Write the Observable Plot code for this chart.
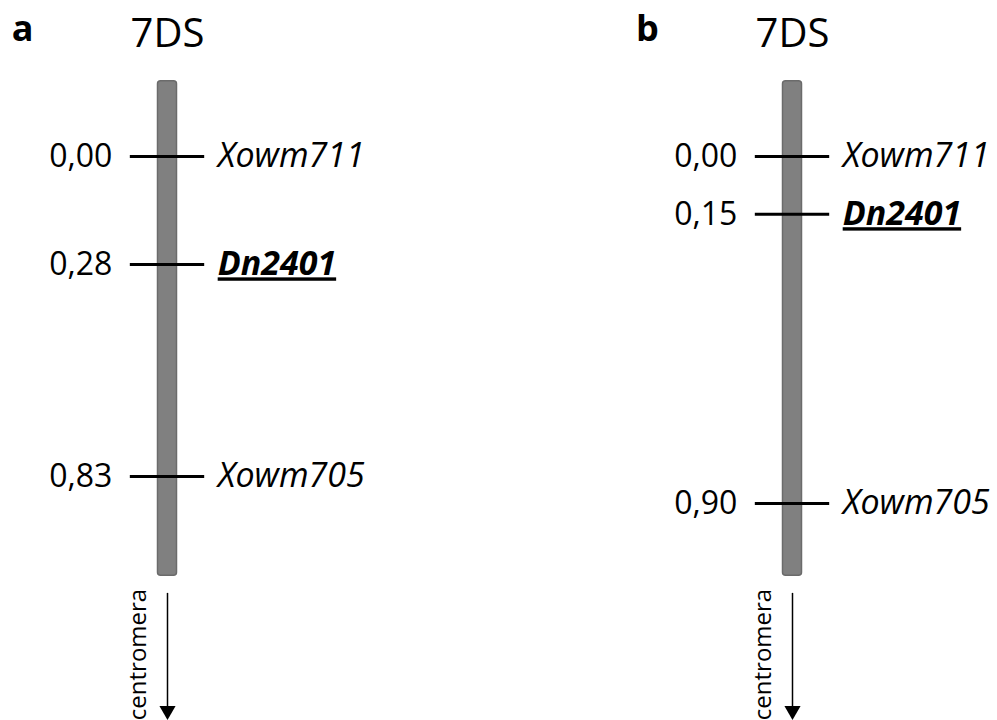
<!DOCTYPE html>
<html>
<head>
<meta charset="utf-8">
<script src="https://cdn.jsdelivr.net/npm/d3@7"></script>
<script src="https://cdn.jsdelivr.net/npm/@observablehq/plot@0.6"></script>
<style>
  html, body { margin: 0; padding: 0; background: #fff; }
  svg { display: block; }
</style>
</head>
<body>
<div id="chart"></div>
<script>
// ---- data ----
const panels = ["a", "b"];
const panelIndex = [0, 1];
const chromosomes = ["7DS", "7DS"];
const chromTop = [-0.195, -0.195];      // top of drawn chromosome bar (map units)
const chromBottom = [1.087, 1.087];     // bottom of drawn chromosome bar

const markerPanel = [0, 0, 0, 1, 1, 1];
const markerNames = ["Xowm711", "Dn2401", "Xowm705", "Xowm711", "Dn2401", "Xowm705"];
const markerPos = [0.00, 0.28, 0.83, 0.00, 0.15, 0.90];
const highlighted = ["Dn2401"];

const arrowLabel = "centromera";
const arrowStart = 1.133;
const arrowEnd = 1.437;
const arrowLabelMid = 1.2915;

// ---- tables built from arrays ----
const chromData = panels.map((p, i) => ({
  panel: p, px: panelIndex[i], name: chromosomes[i], top: chromTop[i], bottom: chromBottom[i]
}));
const markers = markerNames.map((n, i) => ({
  name: n, px: markerPanel[i], pos: markerPos[i],
  label: markerPos[i].toFixed(2).replace(".", ","),
  hi: highlighted.includes(n)
}));

const halfBar = 0.0152;
const halfTick = 0.0595;
const font = "'Open Sans', sans-serif";

const plot = Plot.plot({
  width: 997,
  height: 720,
  margin: 0,
  style: { fontFamily: font, background: "#fff" },
  x: { domain: [-0.2672, 1.328], axis: null },
  y: { domain: [0, 1], range: [156, 541.6], axis: null },
  marks: [
    // chromosome bars
    Plot.rect(chromData, {
      x1: d => d.px - halfBar, x2: d => d.px + halfBar,
      y1: "top", y2: "bottom",
      fill: "#808080", stroke: "#6b6b6b", strokeWidth: 1.5, rx: 3, ry: 3
    }),
    // marker ticks
    Plot.ruleY(markers, {
      y: "pos", x1: d => d.px - halfTick, x2: d => d.px + halfTick,
      stroke: "#000", strokeWidth: 3
    }),
    // positions
    Plot.text(markers, {
      x: d => d.px - halfTick, y: "pos", text: "label",
      textAnchor: "end", dx: -18, fontSize: 32, fill: "#000"
    }),
    // marker names
    Plot.text(markers.filter(d => !d.hi), {
      x: d => d.px + halfTick, y: "pos", text: "name",
      textAnchor: "start", dx: 13, fontSize: 34, fontStyle: "italic", fill: "#000"
    }),
    Plot.text(markers.filter(d => d.hi), {
      x: d => d.px + halfTick, y: "pos", text: "name",
      textAnchor: "start", dx: 13, fontSize: 34, fontStyle: "italic", fontWeight: "bold", fill: "#000"
    }),
    // chromosome titles
    Plot.text(chromData, {
      x: "px", text: "name", frameAnchor: "top", lineAnchor: "top", dy: 18,
      fontSize: 40, fill: "#000"
    }),
    // panel letters
    Plot.text(chromData, {
      x: "px", text: "panel", frameAnchor: "top", lineAnchor: "top", dy: 15, dx: -145,
      fontSize: 36, fontWeight: "bold", fill: "#000"
    }),
    // centromere arrow
    Plot.ruleX(chromData, {
      x: "px", y1: arrowStart, y2: arrowEnd, stroke: "#000", strokeWidth: 1.5
    }),
    Plot.dot(chromData, {
      x: "px", y: arrowEnd, symbol: "triangle", rotate: 180, r: 6, fill: "#000", stroke: "none"
    }),
    Plot.text(chromData, {
      x: "px", y: arrowLabelMid, text: () => arrowLabel,
      rotate: -90, dx: -29, fontSize: 24, fill: "#000"
    })
  ]
});

d3.select(plot).selectAll("text")
  .filter(function () { return highlighted.includes(this.textContent); })
  .attr("text-decoration", "underline");

document.getElementById("chart").appendChild(plot);
</script>
</body>
</html>
